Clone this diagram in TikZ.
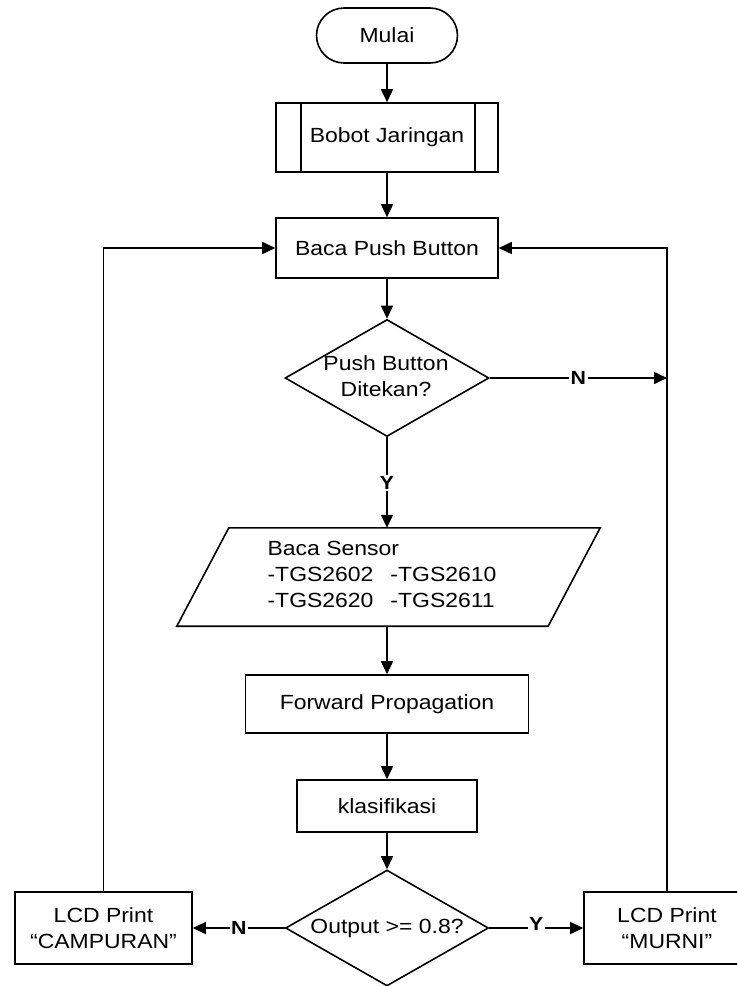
\documentclass[tikz,border=0pt]{standalone}
\usepackage{fontspec}
\setmainfont{Liberation Sans}[FakeStretch=1.12]
\usetikzlibrary{shapes.geometric,arrows.meta,calc}
\begin{document}
\begin{tikzpicture}[x=1pt,y=-1pt,
  every node/.style={font=\fontsize{20.5}{26}\selectfont},
  box/.style={draw, line width=1.6pt, inner sep=0pt, align=center},
  arr/.style={line width=1.6pt, -{Triangle[length=13pt,width=12pt]}},
  plain/.style={line width=1.6pt, line join=miter},
  lbl/.style={fill=white, font=\fontsize{19}{22}\selectfont\bfseries, inner sep=1.5pt}]
\clip (0,0) rectangle (737,986);
\node[box, rounded corners=27.5pt, minimum width=141pt, minimum height=55pt] (mulai) at (387,35.5) {Mulai};
\node[box, minimum width=222pt, minimum height=69pt] (bobot) at (387,137.5) {Bobot Jaringan};
\draw[plain] ([xshift=26pt]bobot.north west) -- ([xshift=26pt]bobot.south west);
\draw[plain] ([xshift=-24pt]bobot.north east) -- ([xshift=-24pt]bobot.south east);
\node[box, minimum width=222pt, minimum height=60pt] (baca) at (387,248) {Baca Push Button};
\node[box, diamond, minimum width=204pt, minimum height=117pt] (dec1) at (387,378) {};
\node[align=center] (dec1t) at (386,376) {Push Button\\Ditekan?};
\node[inner sep=0pt, minimum width=423pt, minimum height=98pt] (sensor) at (388.5,577) {};
\draw[plain] (sensor.south west) -- ($(sensor.north west)+(52,0)$) -- (sensor.north east) -- ($(sensor.south east)+(-52,0)$) -- cycle;
\node[align=left] (sensort) at (382,576.5) {\begin{tabular}{@{}l@{\hspace{17pt}}l@{}}\multicolumn{2}{@{}l@{}}{Baca Sensor}\\ -TGS2602 & -TGS2610\\ -TGS2620 & -TGS2611\end{tabular}};
\node[box, minimum width=283pt, minimum height=58pt] (fwd) at (387,704) {Forward Propagation};
\node[box, minimum width=180pt, minimum height=52pt] (klas) at (387,806) {klasifikasi};
\node[box, diamond, minimum width=203pt, minimum height=116pt] (dec2) at (387,928) {};
\node (dec2t) at (387,928) {Output >= 0.8?};
\node[box, minimum width=177pt, minimum height=72pt] (camp) at (103.5,928) {LCD Print\\``CAMPURAN''};
\node[box, minimum width=166pt, minimum height=72pt] (murni) at (667,928) {LCD Print\\``MURNI''};
\draw[arr] (mulai) -- (bobot);
\draw[arr] (bobot) -- (baca);
\draw[arr] (baca) -- (dec1);
\draw[arr] (dec1.south) -- node[lbl] {Y} (dec1.south |- sensor.north);
\draw[arr] (fwd.north |- sensor.south) -- (fwd.north);
\draw[arr] (fwd) -- (klas);
\draw[arr] (klas) -- (dec2);
\draw[arr] (dec1.east) -- node[lbl] {N} (dec1.east -| murni.north);
\draw[arr] (murni.north) |- (baca.east);
\draw[arr] (camp.north) |- (baca.west);
\draw[arr] (dec2.west) -- node[lbl] {N} (camp.east);
\draw[arr] (dec2.east) -- node[lbl, yshift=4pt] {Y} (murni.west);
\end{tikzpicture}
\end{document}
